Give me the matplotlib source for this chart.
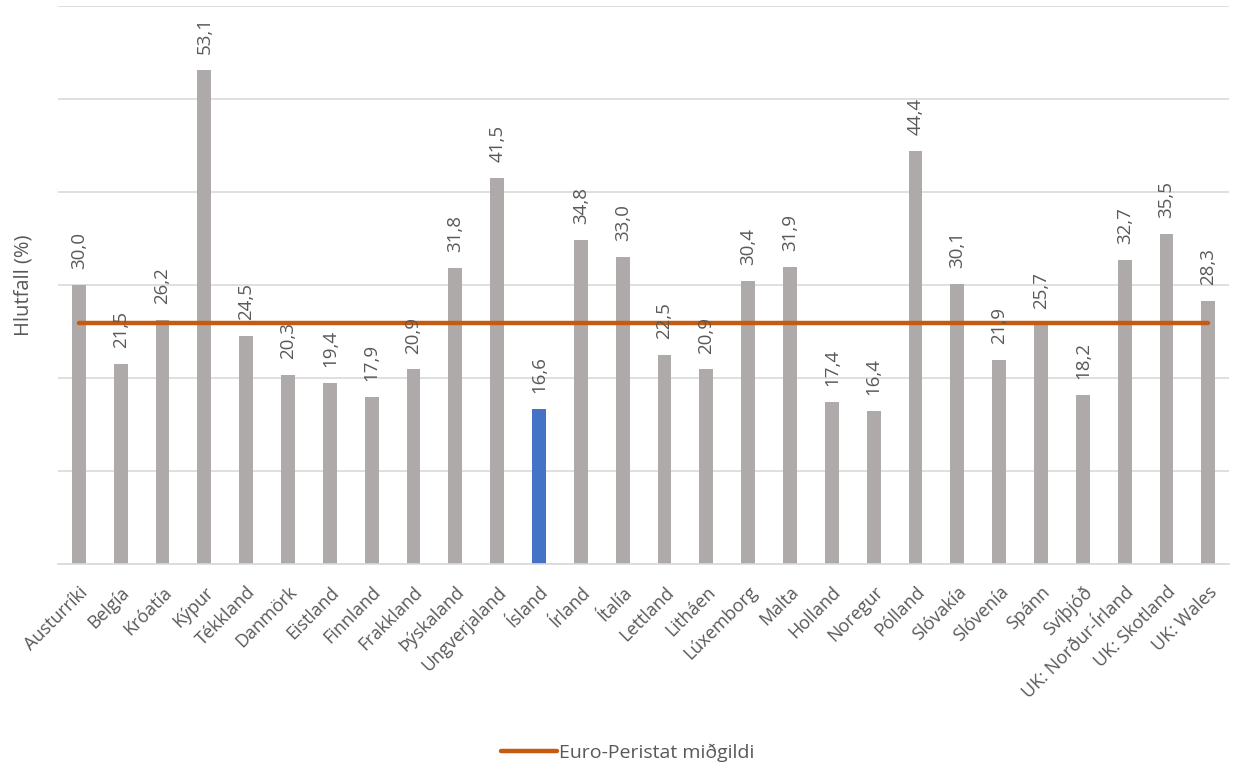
import numpy as np
import matplotlib.pyplot as plt

plt.rcParams['font.family'] = ['Open Sans', 'DejaVu Sans']

countries = ['Austurríki', 'Belgía', 'Króatía', 'Kýpur', 'Tékkland', 'Danmörk',
             'Eistland', 'Finnland', 'Frakkland', 'Þýskaland', 'Ungverjaland',
             'Ísland', 'Írland', 'Ítalía', 'Lettland', 'Litháen', 'Lúxemborg',
             'Malta', 'Holland', 'Noregur', 'Pólland', 'Slóvakía', 'Slóvenía',
             'Spánn', 'Svíþjóð', 'UK: Norður-Írland', 'UK: Skotland', 'UK: Wales']
values = [30.0, 21.5, 26.2, 53.1, 24.5, 20.3, 19.4, 17.9, 20.9, 31.8, 41.5,
          16.6, 34.8, 33.0, 22.5, 20.9, 30.4, 31.9, 17.4, 16.4, 44.4, 30.1,
          21.9, 25.7, 18.2, 32.7, 35.5, 28.3]
median = 25.9
highlight = 'Ísland'

grey_text = '#595959'
x = np.arange(len(countries))
colors = ['#4472C4' if c == highlight else '#AEAAAA' for c in countries]

fig = plt.figure(figsize=(12.33, 7.69), dpi=100)
ax = fig.add_axes([0.047, 0.267, 0.95, 0.725])

ax.bar(x, values, width=0.33, color=colors, zorder=2)
ax.plot(x, [median] * len(x), color='#C55A11', linewidth=3.2,
        solid_capstyle='round', zorder=3, label='Euro-Peristat miðgildi')

# value labels above each bar, decimal comma
for xi, v in zip(x, values):
    ax.annotate(f'{v:.1f}'.replace('.', ','), (xi, v), xytext=(0, 11.5),
                textcoords='offset points', rotation=90, ha='center',
                va='bottom', fontsize=13.5, color=grey_text, zorder=4)

ax.set_xlim(-0.5, len(x) - 0.5)
ax.set_ylim(0, 60)
ax.set_yticks(np.arange(0, 61, 10))
ax.set_yticklabels([])
ax.tick_params(axis='y', length=0)
ax.yaxis.grid(True, color='#D9D9D9', linewidth=1.2, zorder=0)
ax.set_axisbelow(True)

ax.set_xticks(x)
ax.set_xticklabels(countries, rotation=45, ha='right', rotation_mode='anchor',
                   fontsize=13, color=grey_text)
ax.tick_params(axis='x', length=0, pad=14)

for side in ['top', 'right', 'left']:
    ax.spines[side].set_visible(False)
ax.spines['bottom'].set_color('#D9D9D9')
ax.spines['bottom'].set_linewidth(1.2)

ax.set_ylabel('Hlutfall (%)', fontsize=14.5, color=grey_text, labelpad=14)

fig.legend(loc='center', bbox_to_anchor=(0.509, 0.021), frameon=False,
           fontsize=14, labelcolor=grey_text, handlelength=2.9,
           handletextpad=0.1)

fig.savefig('out.png', dpi=100)
